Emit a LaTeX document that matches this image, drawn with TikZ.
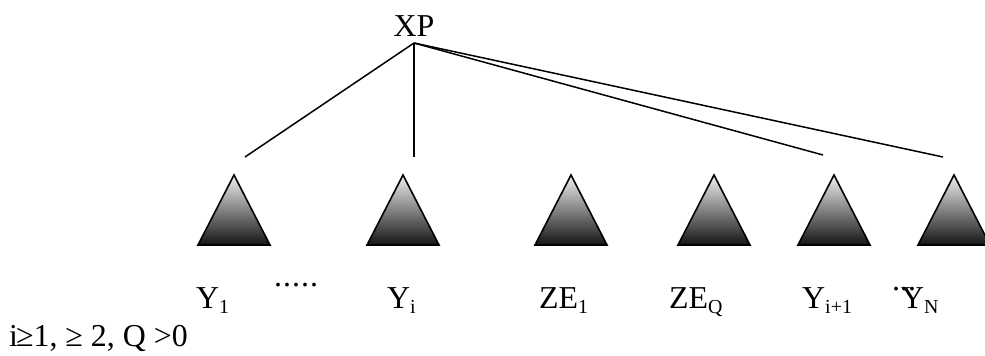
\documentclass[tikz,border=0pt]{standalone}
\usepackage{fontspec}
\setmainfont{Liberation Serif}
\newcommand\lowsub[1]{\raisebox{-5bp}{\fontsize{20}{24}\selectfont #1}}
\begin{document}
\begin{tikzpicture}[x=1bp,y=-1bp,
  lbl/.style={anchor=base west,inner sep=0pt,font=\fontsize{32}{38}\selectfont},
  tri/.style={draw=black,line width=1.6bp,line join=miter,top color=white!94!black,bottom color=black!92},
  edge/.style={line width=1.5bp}]
\useasboundingbox (0,0) rectangle (985,355);
% root
\node[anchor=base,inner sep=0pt,font=\fontsize{32}{38}\selectfont] (xp) at (414,36) {XP};
\coordinate (top) at (414,43);
% ends of branches
\coordinate (e1) at (245,157);
\coordinate (e2) at (414,157);
\coordinate (e3) at (823,155);
\coordinate (e4) at (943,157);
\draw[edge] (top) -- (e1);
\draw[edge] (top) -- (e2);
\draw[edge] (top) -- (e3);
\draw[edge] (top) -- (e4);
% triangles
\foreach \ax in {234,403,571,714,834,954}{
  \path[tri] (\ax,175) -- (\ax+36,245) -- (\ax-36,245) -- cycle;
}
% labels
\node[lbl] (y1) at (196,308) {Y\lowsub{1}};
\node[lbl] (d1) at (274,286) {.\kern1bp.\kern1bp.\kern1bp.\kern1bp.};
\node[lbl] (yi) at (387,308) {Y\lowsub{i}};
\node[lbl] (ze1) at (539,308) {ZE\lowsub{1}};
\node[lbl] (zeq) at (669,308) {ZE\lowsub{Q}};
\node[lbl] (yi1) at (802,308) {Y\lowsub{i+1}};
\node[lbl] (d2) at (892,290) {...};
\node[lbl] (yn) at (901,308) {Y\lowsub{N}};
\node[lbl] (cond) at (9,346) {i\kern-2bp≥1, ≥ 2, Q >0};
\end{tikzpicture}
\end{document}
